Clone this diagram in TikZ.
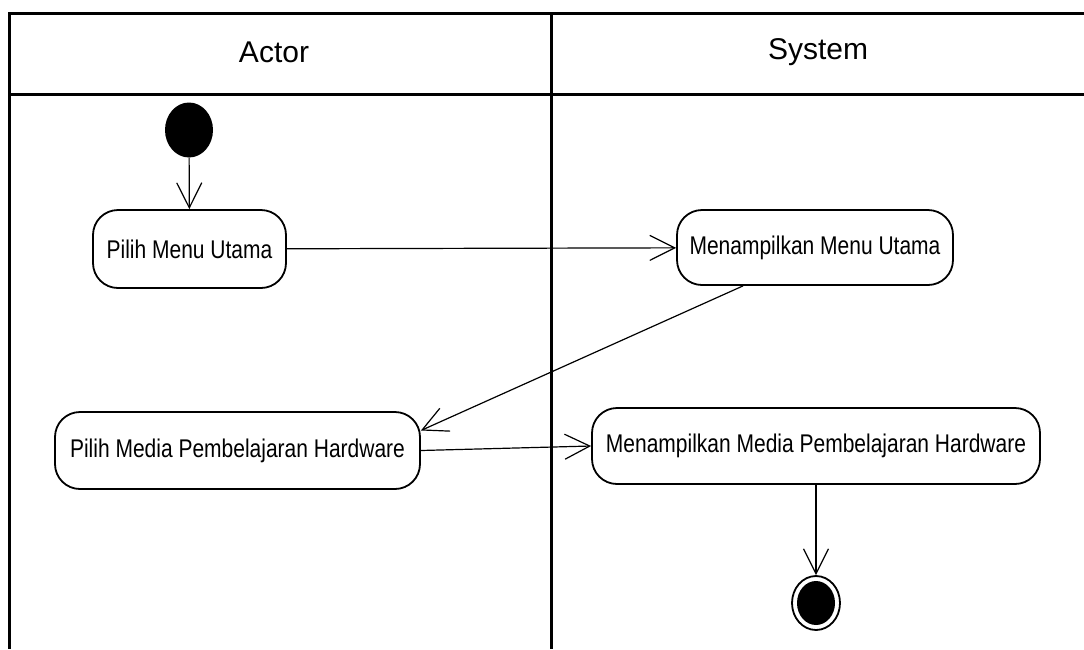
\documentclass[tikz,border=0pt]{standalone}
\usepackage{fontspec}
\setmainfont{Liberation Sans}
\newfontfamily\actfont{Liberation Sans}[FakeStretch=0.82]
\usepackage{tikz}
\usetikzlibrary{arrows.meta,positioning,shapes.geometric}

\begin{document}
\begin{tikzpicture}[x=1pt,y=-1pt,
    lane/.style={line width=3pt,black},
    activity/.style={rectangle,draw,rounded corners=25pt,line width=1.8pt,align=center,inner sep=0pt,font=\actfont\fontsize{25.6}{30}\selectfont},
    flow/.style={line width=1.2pt,-{Straight Barb[length=25pt,width=25pt]}},
    lanetitle/.style={font=\fontsize{30}{34}\selectfont}]
    \useasboundingbox (0,0) rectangle (1084,649);

    % Swimlanes
    \draw[lane] (1084,13) -- (9,13) -- (9,649);
    \draw[lane] (9,94) -- (1084,94);
    \draw[lane] (551,13) -- (551,649);
    \node[lanetitle] at (274,52) (actor) {Actor};
    \node[lanetitle] at (818,52) (system) {System};

    % Start and end
    \node[ellipse,fill=black,minimum width=48pt,minimum height=55pt,inner sep=0pt] at (189,130) (start) {};
    \node[ellipse,draw,line width=1.8pt,minimum width=48pt,minimum height=54pt,inner sep=0pt] at (816,603) (finish) {};
    \node[ellipse,fill=black,minimum width=38pt,minimum height=44pt,inner sep=0pt] at (816,603) (finishdot) {};

    % Activities
    \node[activity,minimum width=193pt,minimum height=78pt] at (189.5,249) (menu) {Pilih Menu Utama};
    \node[activity,minimum width=276pt,minimum height=75pt] at (815,247.5) (showmenu) {Menampilkan Menu Utama};
    \node[activity,minimum width=365pt,minimum height=77pt] at (237.5,450.5) (media) {Pilih Media Pembelajaran Hardware};
    \node[activity,minimum width=448pt,minimum height=76pt] at (816,446) (showmedia) {Menampilkan Media Pembelajaran Hardware};

    % Flows
    \draw[flow] (start) -- (menu);
    \draw[flow] (menu) -- (showmenu);
    \draw[flow] ([xshift=-72pt]showmenu.south) -- ([yshift=20pt]media.east);
    \draw[flow] (media.east) -- (showmedia.west);
    \draw[flow] (showmedia) -- (finish);
\end{tikzpicture}
\end{document}
